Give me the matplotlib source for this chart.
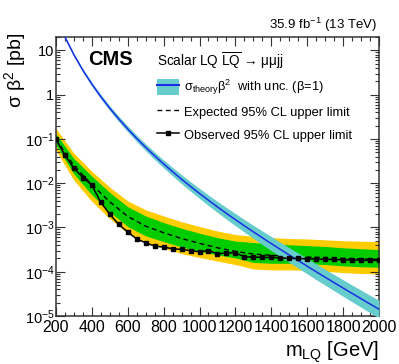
import numpy as np
import matplotlib
matplotlib.use("Agg")
import matplotlib.pyplot as plt
from matplotlib.patches import Patch
from matplotlib.lines import Line2D
from matplotlib.ticker import FixedLocator, LogLocator, MultipleLocator, NullFormatter

plt.rcParams['font.family'] = ['Liberation Sans', 'DejaVu Sans']
plt.rcParams['mathtext.fontset'] = 'custom'
plt.rcParams['mathtext.rm'] = 'Liberation Sans'
plt.rcParams['mathtext.it'] = 'Liberation Sans:italic'
plt.rcParams['mathtext.bf'] = 'Liberation Sans:bold'

# ---------------- data ----------------
obs_mass = [200, 250, 300, 350, 400, 450, 500, 550, 600, 650, 700, 750, 800, 850, 900, 950,
            1000, 1050, 1100, 1150, 1200, 1250, 1300, 1350, 1400, 1450, 1500, 1550, 1600,
            1650, 1700, 1750, 1800, 1850, 1900, 1950, 2000]
obs_limit = [0.100, 0.043, 0.022, 0.0134, 0.0091, 0.0037, 0.0020, 0.00117, 0.00079, 0.00055,
             0.00045, 0.00038, 0.00036, 0.00033, 0.00032, 0.00030, 0.00028, 0.00030, 0.000255,
             0.000265, 0.00027, 0.000215, 0.000215, 0.00021, 0.00021, 0.000205, 0.00020,
             0.00020, 0.000195, 0.000195, 0.00019, 0.00019, 0.000185, 0.000185, 0.000182,
             0.00018, 0.00018]

exp_mass = [200, 300, 400, 500, 600, 700, 800, 900, 1000, 1100, 1200, 1300, 1400, 1500,
            1600, 1700, 1800, 1900, 2000]
exp_limit = [0.100, 0.0251, 0.00933, 0.0038, 0.00178, 0.00107, 0.000759, 0.000562, 0.000437,
             0.000347, 0.000288, 0.000251, 0.000234, 0.000224, 0.000214, 0.000209, 0.000200,
             0.000195, 0.000190]
exp_up2 = [0.174, 0.0479, 0.0186, 0.00813, 0.00398, 0.00251, 0.00182, 0.00135, 0.00105,
           0.000832, 0.000692, 0.000631, 0.000589, 0.000562, 0.000550, 0.000525, 0.000501,
           0.000490, 0.000479]
exp_up1 = [0.132, 0.0363, 0.0145, 0.00617, 0.00295, 0.00182, 0.00129, 0.000955, 0.000741,
           0.000589, 0.000490, 0.000457, 0.000427, 0.000407, 0.000389, 0.000372, 0.000347,
           0.000331, 0.000316]
exp_dn1 = [0.0741, 0.0162, 0.0055, 0.00224, 0.00105, 0.000646, 0.000479, 0.000363, 0.000288,
           0.000240, 0.000204, 0.000162, 0.000155, 0.000155, 0.000151, 0.000145, 0.000135,
           0.000129, 0.000126]
exp_dn2 = [0.0562, 0.0117, 0.00389, 0.00158, 0.000741, 0.000457, 0.000339, 0.000257, 0.000209,
           0.000174, 0.000145, 0.000115, 0.000110, 0.000110, 0.000107, 0.000102, 0.0000955,
           0.0000912, 0.0000891]

theory_mass = obs_mass
theory_xsec = [60.6, 20.3, 8.04, 3.58, 1.74, 0.905, 0.496, 0.284, 0.169, 0.103, 0.0648, 0.0416,
               0.0273, 0.0182, 0.0123, 0.00845, 0.00586, 0.00411, 0.00291, 0.00208, 0.00150,
               0.00109, 0.000795, 0.000585, 0.000431, 0.000320, 0.000238, 0.000178, 0.000133,
               0.0000996, 0.0000750, 0.0000565, 0.0000427, 0.0000323, 0.0000245, 0.0000186,
               0.0000142]
theory_unc = [0.047, 0.061, 0.076, 0.089, 0.104, 0.119, 0.135, 0.151, 0.167, 0.180, 0.197,
              0.213, 0.230, 0.247, 0.265, 0.279, 0.297, 0.315, 0.334, 0.352, 0.371, 0.387,
              0.406, 0.426, 0.445, 0.456, 0.469, 0.479, 0.489, 0.503, 0.514, 0.524, 0.538,
              0.549, 0.560, 0.574, 0.585]

xticks = [200, 400, 600, 800, 1000, 1200, 1400, 1600, 1800, 2000]
yticks = [1e-5, 1e-4, 1e-3, 1e-2, 1e-1, 1, 10]
ytick_labels = [r"$10^{-5}$", r"$10^{-4}$", r"$10^{-3}$", r"$10^{-2}$", r"$10^{-1}$", "1", "10"]

# ---------------- figure ----------------
fig = plt.figure(figsize=(3.99, 3.64), dpi=100)
ax = fig.add_axes([0.140, 0.132, 0.810, 0.766])

yellow = '#ffcc00'
green = '#00cc00'
cyan = '#66cccc'
blue = '#1a2fe6'

ax.fill_between(exp_mass, exp_dn2, exp_up2, color=yellow, lw=0, zorder=1)
ax.fill_between(exp_mass, exp_dn1, exp_up1, color=green, lw=0, zorder=2)
ax.plot(exp_mass, exp_limit, color='black', ls=(0, (3.5, 2.5)), lw=1.0, zorder=3)

th = np.array(theory_xsec)
tu = 1.0 + np.array(theory_unc)
ax.fill_between(theory_mass, th / tu, th * tu, color=cyan, lw=0, zorder=4)
ax.plot(theory_mass, th, color=blue, lw=1.1, zorder=5)

ax.plot(obs_mass, obs_limit, color='black', lw=1.1, marker='s', ms=3.3, zorder=6)

ax.set_yscale('log')
ax.set_xlim(200, 2000)
ax.set_ylim(1e-5, 20)

ax.xaxis.set_major_locator(FixedLocator(xticks))
ax.xaxis.set_minor_locator(MultipleLocator(50))
ax.yaxis.set_major_locator(FixedLocator(yticks))
ax.set_yticklabels(ytick_labels)
ax.yaxis.set_minor_locator(LogLocator(base=10, subs=np.arange(2, 10)))
ax.yaxis.set_minor_formatter(NullFormatter())

ax.tick_params(which='both', direction='in', top=True, right=True, width=0.8,
               color='#333333')
ax.tick_params(axis='x', which='major', labelsize=11.5, pad=3)
ax.tick_params(axis='y', which='major', labelsize=10.5, pad=1)
ax.tick_params(which='major', length=6.3)
ax.tick_params(which='minor', length=3.2)
for s in ax.spines.values():
    s.set_linewidth(1.1)
    s.set_color('#333333')

ax.set_xlabel(r"m$_{\mathrm{LQ}}$ [GeV]", fontsize=14.5, loc='right')
ax.xaxis.set_label_coords(1.0, -0.085)
ax.set_ylabel(r"σ β$^{2}$ [pb]", fontsize=14, loc='top')
ax.yaxis.set_label_coords(-0.086, 1.015)

ax.text(0.10, 0.955, "CMS", transform=ax.transAxes, fontsize=14.5, fontweight='bold',
        ha='left', va='top')
fig.text(0.944, 0.907, r"35.9 fb$^{-1}$ (13 TeV)", fontsize=9.5, ha='right', va='bottom')

handles = [(Patch(facecolor=cyan, edgecolor='none'), Line2D([], [], color=blue, lw=1.5)),
           Line2D([], [], color='black', ls=(0, (3.5, 2.5)), lw=1.0),
           Line2D([], [], color='black', lw=1.1, marker='s', ms=3.3)]
labels = [r"σ$_{\mathrm{theory}}$β$^{2}$  with unc. (β=1)",
          "Expected 95% CL upper limit",
          "Observed 95% CL upper limit"]
leg = ax.legend(handles, labels, title=r"Scalar LQ $\overline{\mathrm{LQ}}$ → μμjj",
                loc='upper left', bbox_to_anchor=(0.282, 0.99), frameon=False,
                fontsize=9.3, title_fontsize=9.8, alignment='left', handlelength=1.7,
                handleheight=1.6, handletextpad=0.4, labelspacing=0.5, borderpad=0.3)

fig.savefig("out.png", dpi=100)
